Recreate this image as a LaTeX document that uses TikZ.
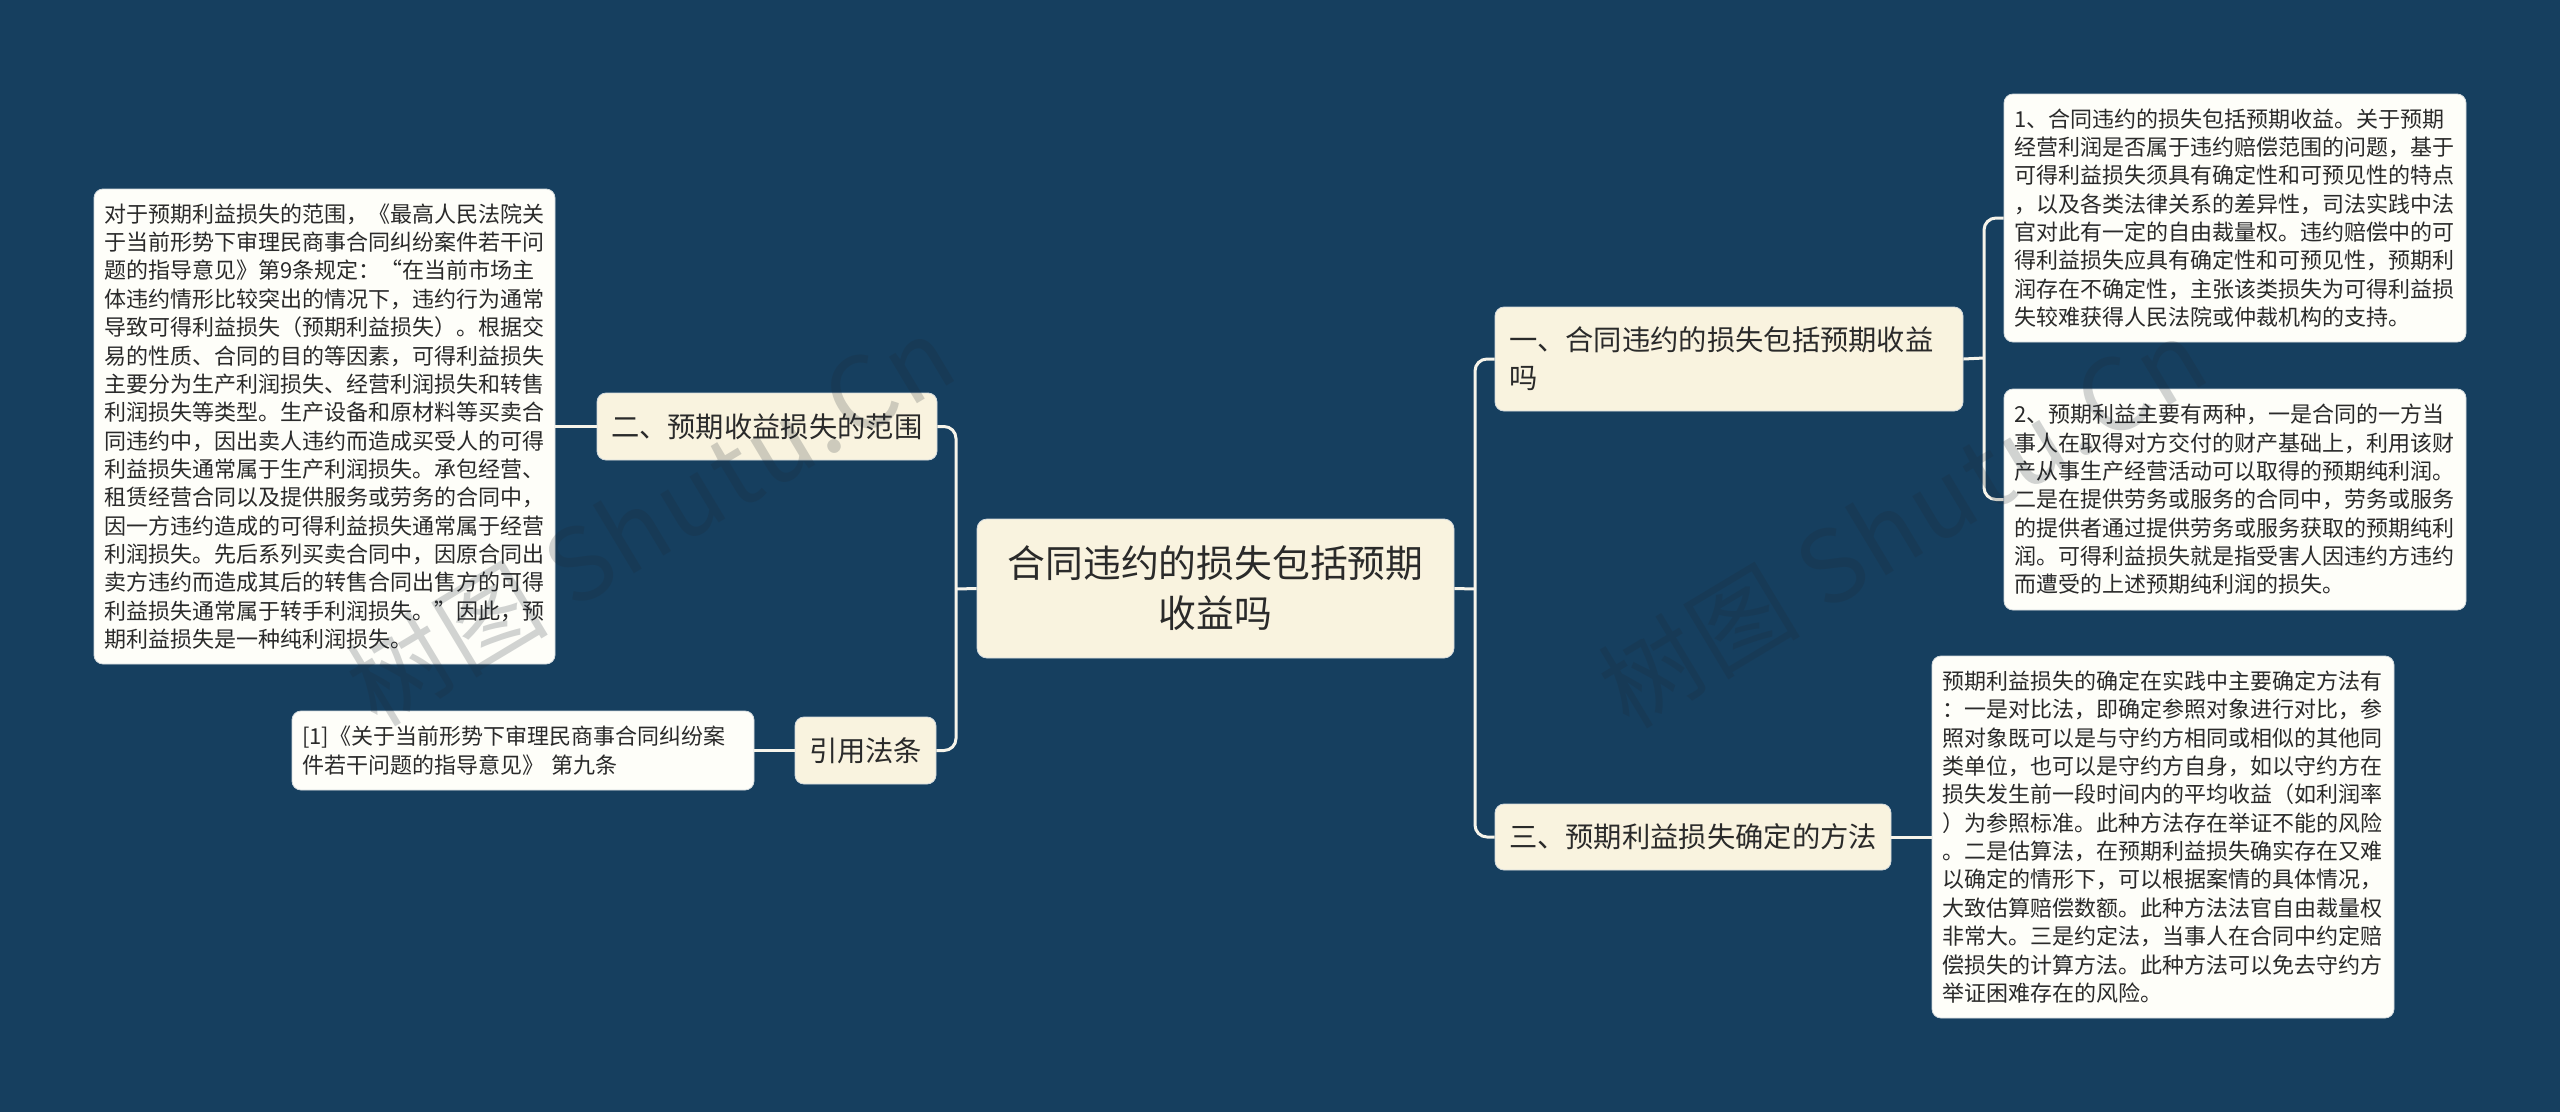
\documentclass[tikz,border=0pt]{standalone}
\usepackage{fontspec}
\setmainfont{Noto Sans CJK SC}
\newfontfamily\stampfont[LetterSpace=3]{Noto Sans CJK SC}
\definecolor{bgc}{HTML}{163F5F}
\definecolor{cream}{HTML}{F9F3DF}
\definecolor{paper}{HTML}{FEFEF9}
\definecolor{ink}{HTML}{2A2A2A}
\definecolor{linec}{HTML}{F6F4EA}
\definecolor{edge}{HTML}{D3DADD}
\definecolor{stampc}{HTML}{1E2832}
\tikzset{
  detailbox/.style={rectangle,rounded corners=9pt,draw=edge,line width=0.8pt,fill=paper,text=ink,inner ysep=0pt,inner xsep=10pt,align=left,
    font=\fontsize{22pt}{28.35pt}\selectfont},
  topicbox/.style={rectangle,rounded corners=9pt,draw=edge,line width=0.8pt,fill=cream,text=ink,inner ysep=0pt,inner xsep=14pt,align=left,
    font=\fontsize{28.3pt}{38pt}\selectfont},
  rootbox/.style={rectangle,rounded corners=10pt,draw=edge,line width=0.8pt,fill=cream,text=ink,inner sep=0pt,align=center,
    font=\fontsize{37.8pt}{50pt}\selectfont},
  conn/.style={draw=linec,line width=3pt,rounded corners=12pt},
  stamp/.style={text=stampc,text opacity=0.2,rotate=31,inner sep=0pt,font=\stampfont\fontsize{100pt}{100pt}\selectfont},
}
\begin{document}
\begin{tikzpicture}[x=1pt,y=-1pt]
\useasboundingbox (0,0) rectangle (2560,1112);
\fill[bgc] (0,0) rectangle (2560,1112);
% connector junctions
\coordinate (sr) at (1475,589);
\coordinate (sl) at (956,589);
\coordinate (sa) at (1984,358);
% root
\node[rootbox,minimum width=477pt,minimum height=139pt] (root) at (1215.5,588.5) {合同违约的损失包括预期\\收益吗};
% topics
\node[topicbox,text width=440pt,minimum height=104pt] (t1) at (1729,359) {一、合同违约的损失包括预期收益\\吗};
\node[topicbox,text width=368pt,minimum height=66pt] (t3) at (1693,837) {三、预期利益损失确定的方法};
\node[topicbox,text width=312pt,minimum height=67pt] (t2) at (767,426.5) {二、预期收益损失的范围};
\node[topicbox,text width=113pt,minimum height=67pt] (t4) at (865.5,750.5) {引用法条};
% details
\node[detailbox,text width=441pt,minimum height=475pt] (d2) at (324.5,426.5) {对于预期利益损失的范围，《最高人民法院关\\
于当前形势下审理民商事合同纠纷案件若干问\\
题的指导意见》第9条规定：“在当前市场主\\
体违约情形比较突出的情况下，违约行为通常\\
导致可得利益损失（预期利益损失）。根据交\\
易的性质、合同的目的等因素，可得利益损失\\
主要分为生产利润损失、经营利润损失和转售\\
利润损失等类型。生产设备和原材料等买卖合\\
同违约中，因出卖人违约而造成买受人的可得\\
利益损失通常属于生产利润损失。承包经营、\\
租赁经营合同以及提供服务或劳务的合同中，\\
因一方违约造成的可得利益损失通常属于经营\\
利润损失。先后系列买卖合同中，因原合同出\\
卖方违约而造成其后的转售合同出售方的可得\\
利益损失通常属于转手利润损失。”因此，预\\
期利益损失是一种纯利润损失。};
\node[detailbox,text width=442pt,minimum height=79pt] (d4) at (523,750.5) {[1]《关于当前形势下审理民商事合同纠纷案\\
件若干问题的指导意见》 第九条};
\node[detailbox,text width=442pt,minimum height=248pt] (d11) at (2235,218) {1、合同违约的损失包括预期收益。关于预期\\
经营利润是否属于违约赔偿范围的问题，基于\\
可得利益损失须具有确定性和可预见性的特点\\
，以及各类法律关系的差异性，司法实践中法\\
官对此有一定的自由裁量权。违约赔偿中的可\\
得利益损失应具有确定性和可预见性，预期利\\
润存在不确定性，主张该类损失为可得利益损\\
失较难获得人民法院或仲裁机构的支持。};
\node[detailbox,text width=442pt,minimum height=221pt] (d12) at (2235,499.5) {2、预期利益主要有两种，一是合同的一方当\\
事人在取得对方交付的财产基础上，利用该财\\
产从事生产经营活动可以取得的预期纯利润。\\
二是在提供劳务或服务的合同中，劳务或服务\\
的提供者通过提供劳务或服务获取的预期纯利\\
润。可得利益损失就是指受害人因违约方违约\\
而遭受的上述预期纯利润的损失。};
\node[detailbox,text width=442pt,minimum height=362pt] (d3) at (2163,837) {预期利益损失的确定在实践中主要确定方法有\\
：一是对比法，即确定参照对象进行对比，参\\
照对象既可以是与守约方相同或相似的其他同\\
类单位，也可以是守约方自身，如以守约方在\\
损失发生前一段时间内的平均收益（如利润率\\
）为参照标准。此种方法存在举证不能的风险\\
。二是估算法，在预期利益损失确实存在又难\\
以确定的情形下，可以根据案情的具体情况，\\
大致估算赔偿数额。此种方法法官自由裁量权\\
非常大。三是约定法，当事人在合同中约定赔\\
偿损失的计算方法。此种方法可以免去守约方\\
举证困难存在的风险。};
% connectors
\draw[conn] (root.east) -- (sr);
\draw[conn] (root.west) -- (sl);
\draw[conn] (t1.west) -| (sr) |- (t3.west);
\draw[conn] (t2.east) -| (sl) |- (t4.east);
\draw[conn] (t1.east) -- (sa);
\draw[conn] (d11.west) -| (sa) |- (d12.west);
\draw[conn] (t2.west) -- (d2.east);
\draw[conn] (t4.west) -- (d4.east);
\draw[conn] (t3.east) -- (d3.west);
% watermarks
\node[stamp] (w1) at (650,520) {树图 Shutu.Cn};
\node[stamp] (w2) at (1902,522) {树图 Shutu.Cn};
\end{tikzpicture}
\end{document}
